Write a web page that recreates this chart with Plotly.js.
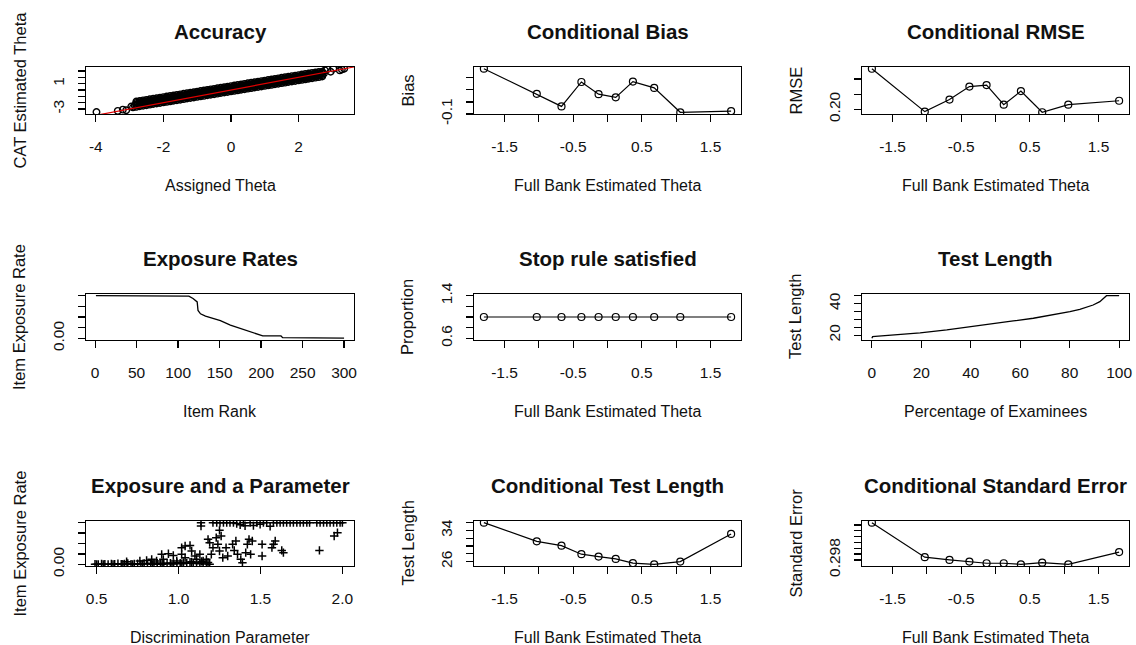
<!DOCTYPE html>
<html><head><meta charset="utf-8">
<script src="https://cdn.plot.ly/plotly-3.0.1.min.js"></script>
<style>html,body{margin:0;padding:0;background:#fff}#chart{width:1136px;height:645px}</style>
</head><body><div id="chart"></div>
<script>
// ---------------- DATA ----------------
// Panel 1: Accuracy (assigned theta vs CAT estimated theta) - read from the dense band
const accTheta = [-2.8,-2.7,-2.6,-2.5,-2.4,-2.3,-2.2,-2.1,-2.0,-1.9,-1.8,-1.7,-1.6,-1.5,-1.4,-1.3,-1.2,-1.1,-1.0,-0.9,-0.8,-0.7,-0.6,-0.5,-0.4,-0.3,-0.2,-0.1,0.0,0.1,0.2,0.3,0.4,0.5,0.6,0.7,0.8,0.9,1.0,1.1,1.2,1.3,1.4,1.5,1.6,1.7,1.8,1.9,2.0,2.1,2.2,2.3,2.4,2.5,2.6,2.7];
const accEstMid = [-2.24,-2.15,-2.06,-1.98,-1.89,-1.80,-1.71,-1.63,-1.54,-1.45,-1.37,-1.28,-1.19,-1.11,-1.02,-0.93,-0.84,-0.76,-0.67,-0.58,-0.50,-0.41,-0.32,-0.24,-0.15,-0.06,0.03,0.11,0.20,0.29,0.37,0.46,0.55,0.64,0.72,0.81,0.90,0.98,1.07,1.16,1.24,1.33,1.42,1.51,1.59,1.68,1.77,1.85,1.94,2.03,2.11,2.20,2.29,2.38,2.46,2.55];
const accEstUpper = [-2.03,-1.94,-1.85,-1.77,-1.68,-1.59,-1.50,-1.42,-1.33,-1.24,-1.16,-1.07,-0.98,-0.90,-0.81,-0.72,-0.63,-0.55,-0.46,-0.37,-0.29,-0.20,-0.11,-0.03,0.06,0.15,0.24,0.32,0.41,0.50,0.58,0.67,0.76,0.85,0.93,1.02,1.11,1.19,1.28,1.37,1.45,1.54,1.63,1.72,1.80,1.89,1.98,2.06,2.15,2.24,2.32,2.41,2.50,2.59,2.67,2.76];
const accEstLower = [-2.45,-2.36,-2.27,-2.19,-2.10,-2.01,-1.92,-1.84,-1.75,-1.66,-1.58,-1.49,-1.40,-1.32,-1.23,-1.14,-1.05,-0.97,-0.88,-0.79,-0.71,-0.62,-0.53,-0.45,-0.36,-0.27,-0.18,-0.10,-0.01,0.08,0.16,0.25,0.34,0.43,0.51,0.60,0.69,0.77,0.86,0.95,1.03,1.12,1.21,1.30,1.38,1.47,1.56,1.64,1.73,1.82,1.90,1.99,2.08,2.17,2.25,2.34];
const accEstHigh = [-1.82,-1.73,-1.64,-1.56,-1.47,-1.38,-1.29,-1.21,-1.12,-1.03,-0.95,-0.86,-0.77,-0.69,-0.60,-0.51,-0.42,-0.34,-0.25,-0.16,-0.08,0.01,0.10,0.18,0.27,0.36,0.45,0.53,0.62,0.71,0.79,0.88,0.97,1.06,1.14,1.23,1.32,1.40,1.49,1.58,1.66,1.75,1.84,1.93,2.01,2.10,2.19,2.27,2.36,2.45,2.53,2.62,2.71,2.78,2.84,2.90];
const accEstLow = [-2.66,-2.57,-2.48,-2.40,-2.31,-2.22,-2.13,-2.05,-1.96,-1.87,-1.79,-1.70,-1.61,-1.53,-1.44,-1.35,-1.26,-1.18,-1.09,-1.00,-0.92,-0.83,-0.74,-0.66,-0.57,-0.48,-0.39,-0.31,-0.22,-0.13,-0.05,0.04,0.13,0.22,0.30,0.39,0.48,0.56,0.65,0.74,0.82,0.91,1.00,1.09,1.17,1.26,1.35,1.43,1.52,1.61,1.69,1.78,1.87,1.96,2.04,2.13];
const accTailTheta = [-3.98,-3.35,-3.2,-3.1,-2.95,-2.9,-2.85,2.75,2.78,2.85,2.95,3.03,3.22,3.28,3.35];
const accTailEst   = [-3.47,-3.3,-3.1,-3.2,-2.6,-2.75,-2.45,2.6,3.1,3.3,2.9,3.35,3.1,3.25,3.37];

// Conditional panels: group means of full-bank estimated theta
const groupTheta = [-1.80,-1.03,-0.67,-0.38,-0.13,0.12,0.37,0.68,1.06,1.80];
const condBias = [0.275,0.067,-0.037,0.165,0.064,0.038,0.168,0.116,-0.086,-0.077];
const condRMSE = [0.334,0.192,0.232,0.275,0.280,0.215,0.260,0.190,0.215,0.228];
const stopProportion = [1,1,1,1,1,1,1,1,1,1];
const condTestLength = [36.0,31.2,30.1,27.9,27.3,26.7,25.6,25.3,26.0,33.1];
const condSE = [0.30440,0.29847,0.29800,0.29771,0.29742,0.29742,0.29724,0.29753,0.29724,0.29934];

// Exposure rates by item rank
const itemRank = [1,111,113,118,121,123,124,127,133,143,151,163,176,188,196,202,224,226,300];
const itemExposure = [0.2,0.2,0.198,0.187,0.179,0.171,0.131,0.115,0.104,0.094,0.083,0.062,0.046,0.030,0.019,0.011,0.011,0.003,0.001];

// Test length by percentage of examinees
const examineePct = [0,0.3,1.35,8.7,19.5,30.3,41.0,49.1,57.2,65.3,73.4,80.1,84.1,89.5,92.2,94.9,100];
const testLengthSorted = [18,19,19.2,20.1,21.5,23.3,25.4,27.1,29.0,30.7,32.8,34.9,36.4,39.1,41.2,45,45];

// Exposure vs discrimination parameter
const discParam = [
0.49,0.51,0.53,0.55,0.57,0.59,0.61,0.63,0.65,0.67,0.69,0.71,0.73,0.75,0.77,0.79,0.81,0.83,0.85,0.87,0.89,0.91,0.93,0.95,0.97,0.99,1.01,1.03,1.05,1.07,1.09,1.11,1.13,1.15,1.17,1.19,
0.50,0.54,0.60,0.66,0.72,0.78,0.84,0.90,0.96,1.02,1.08,1.14,1.18,
0.683,0.764,0.805,0.836,0.866,0.897,0.938,0.968,0.907,0.989,1.019,1.040,1.070,1.019,1.040,1.08,1.10,1.11,1.13,1.15,1.17,1.18,1.19,1.20,1.21,1.23,1.24,1.25,1.25,1.26,1.27,1.29,1.30,1.33,1.34,1.35,1.36,1.38,1.39,1.41,1.42,1.43,1.44,1.45,1.51,1.51,1.57,1.58,1.59,1.63,1.64,1.86,1.95,1.97,
1.137,1.137,1.21,1.233,1.253,1.274,1.294,1.314,1.335,1.355,1.376,1.396,1.406,1.437,1.457,1.478,1.498,1.518,1.538,1.559,1.579,1.60,1.62,1.64,1.66,1.681,1.701,1.722,1.742,1.762,1.783,1.80,1.844,1.864,1.885,1.905,1.925,1.946,1.966,1.986,2.0];
const discExposure = [
0.001,0.000,0.002,0.001,0.000,0.002,0.001,0.003,0.001,0.002,0.004,0.001,0.002,0.003,0.001,0.004,0.003,0.005,0.002,0.006,0.004,0.003,0.007,0.005,0.004,0.008,0.006,0.009,0.005,0.010,0.004,0.008,0.003,0.006,0.002,0.001,
0.000,0.000,0.000,0.001,0.000,0.002,0.000,0.001,0.002,0.003,0.012,0.014,0.009,
0.013,0.016,0.019,0.024,0.016,0.048,0.051,0.043,0.024,0.016,0.080,0.088,0.091,0.048,0.032,0.064,0.040,0.024,0.048,0.016,0.024,0.120,0.104,0.048,0.080,0.128,0.096,0.163,0.064,0.136,0.032,0.080,0.040,0.096,0.067,0.112,0.048,0.024,0.008,0.056,0.096,0.120,0.048,0.112,0.096,0.040,0.080,0.096,0.112,0.067,0.056,0.067,0.136,0.152,
0.200,0.184,0.200,0.200,0.200,0.200,0.200,0.200,0.200,0.196,0.190,0.200,0.185,0.200,0.186,0.200,0.192,0.200,0.200,0.183,0.200,0.200,0.200,0.200,0.200,0.200,0.200,0.200,0.200,0.200,0.200,0.200,0.200,0.200,0.200,0.200,0.200,0.200,0.200,0.200,0.200];

// Tick values / labels
const thetaTickVals = [-1.5,-1,-0.5,0,0.5,1,1.5];
const thetaTickText = ['-1.5','','-0.5','','0.5','','1.5'];
const accXTicks = [-4,-2,0,2];
const accYTickVals = [-3,-2,-1,0,1,2,3];
const accYTickText = ['-3','','','','1','',''];
const biasTickVals = [-0.1,0,0.1,0.2];
const biasTickText = ['-0.1','','',''];
const rmseTickVals = [0.20,0.25,0.30];
const rmseTickText = ['0.20','',''];
const expTickVals = [0,0.05,0.10,0.15,0.20];
const expTickText = ['0.00','','','',''];
const rankTicks = [0,50,100,150,200,250,300];
const propTickVals = [0.6,0.8,1.0,1.2,1.4];
const propTickText = ['0.6','','','','1.4'];
const pctTicks = [0,20,40,60,80,100];
const tlTickVals = [20,25,30,35,40,45];
const tlTickText = ['20','','','','40',''];
const discTickVals = [0.5,1.0,1.5,2.0];
const discTickText = ['0.5','1.0','1.5','2.0'];
const ctlTickVals = [26,28,30,32,34,36];
const ctlTickText = ['26','','','','34',''];
const seTickVals = [0.298,0.299,0.300,0.301,0.302,0.303,0.304];
const seTickText = ['0.298','','','','','',''];

const titles = ['Accuracy','Conditional Bias','Conditional RMSE','Exposure Rates','Stop rule satisfied','Test Length','Exposure and a Parameter','Conditional Test Length','Conditional Standard Error'];
const xTitles = ['Assigned Theta','Full Bank Estimated Theta','Full Bank Estimated Theta','Item Rank','Full Bank Estimated Theta','Percentage of Examinees','Discrimination Parameter','Full Bank Estimated Theta','Full Bank Estimated Theta'];
const yTitles = ['CAT Estimated Theta','Bias','RMSE','Item Exposure Rate','Proportion','Test Length','Item Exposure Rate','Test Length','Standard Error'];

// ---------------- LAYOUT ----------------
const W = 1136, H = 645;
const colX = [[86,354],[474,741],[862,1129]];
const rowY = [[67,114],[294,340],[521,566]];
const FONT = '"Liberation Sans", Arial, sans-serif';
const tickFont = {family: FONT, size: 15.5, color: '#111'};

function xAxis(i, range, tv, tt){
  const c = i % 3;
  return {domain:[colX[c][0]/W, colX[c][1]/W], anchor: i===0?'y':'y'+(i+1), range: range,
    tickmode:'array', tickvals: tv, ticktext: tt, showline:true, mirror:true, linecolor:'#000', linewidth:1.2,
    ticks:'outside', ticklen:7, tickwidth:1.2, tickcolor:'#000', showgrid:false, zeroline:false,
    tickfont: tickFont, ticklabelstandoff: 11, fixedrange:true};
}
function yAxis(i, range, tv, tt){
  const r = Math.floor(i / 3);
  return {domain:[1-rowY[r][1]/H, 1-rowY[r][0]/H], anchor: i===0?'x':'x'+(i+1), range: range,
    tickmode:'array', tickvals: tv, ticktext: tt, tickangle:-90, showline:true, mirror:true, linecolor:'#000', linewidth:1.2,
    ticks:'outside', ticklen:7, tickwidth:1.2, tickcolor:'#000', showgrid:false, zeroline:false,
    tickfont: tickFont, ticklabelstandoff: 8, fixedrange:true};
}

const layout = {width:W, height:H, margin:{l:0,r:0,t:0,b:0}, paper_bgcolor:'#fff', plot_bgcolor:'#fff', showlegend:false, annotations:[]};

const xr = [[-4.29,3.64],[-1.944,1.944],[-1.944,1.944],[-10.96,311.96],[-1.944,1.944],[-4,104],[0.435,2.071],[-1.944,1.944],[-1.944,1.944]];
const yr = [[-3.79,3.64],[-0.1,0.289],[0.1842,0.3398],[-0.008,0.208],[0.568,1.432],[16.92,46.08],[-0.008,0.208],[24.87,36.43],[0.29695,0.30469]];
const xt = [[accXTicks,accXTicks.map(String)],[thetaTickVals,thetaTickText],[thetaTickVals,thetaTickText],[rankTicks,rankTicks.map(String)],[thetaTickVals,thetaTickText],[pctTicks,pctTicks.map(String)],[discTickVals,discTickText],[thetaTickVals,thetaTickText],[thetaTickVals,thetaTickText]];
const yt = [[accYTickVals,accYTickText],[biasTickVals,biasTickText],[rmseTickVals,rmseTickText],[expTickVals,expTickText],[propTickVals,propTickText],[tlTickVals,tlTickText],[expTickVals,expTickText],[ctlTickVals,ctlTickText],[seTickVals,seTickText]];

for (let i = 0; i < 9; i++){
  const k = i===0 ? '' : String(i+1);
  layout['xaxis'+k] = xAxis(i, xr[i], xt[i][0], xt[i][1]);
  layout['yaxis'+k] = yAxis(i, yr[i], yt[i][0], yt[i][1]);
  const c = i % 3, r = Math.floor(i/3);
  const cx = (colX[c][0]+colX[c][1])/2, cy = (rowY[r][0]+rowY[r][1])/2;
  layout.annotations.push({text:'<b>'+titles[i]+'</b>', xref:'paper', yref:'paper', x:cx/W, y:1-(rowY[r][0]-36)/H, xanchor:'center', yanchor:'middle', showarrow:false, font:{family:FONT, size:20.5, color:'#111'}});
  layout.annotations.push({text:xTitles[i], xref:'paper', yref:'paper', x:cx/W, y:1-(rowY[r][1]+71)/H, xanchor:'center', yanchor:'middle', showarrow:false, font:{family:FONT, size:16, color:'#111'}});
  layout.annotations.push({text:yTitles[i], xref:'paper', yref:'paper', x:(colX[c][0]-67)/W, y:1-cy/H, xanchor:'center', yanchor:'middle', textangle:-90, showarrow:false, font:{family:FONT, size:16.5, color:'#111'}});
}

// ---------------- TRACES ----------------
const circ = {symbol:'circle-open', size:7, color:'#000', line:{width:1.2, color:'#000'}};
const ln = {color:'#000', width:1.2};
function lp(x, y, k){ return {type:'scatter', mode:'lines+markers', x:x, y:y, xaxis:'x'+k, yaxis:'y'+k, line:ln, marker:circ, hoverinfo:'skip'}; }

const accX = accTheta.concat(accTheta, accTheta, accTheta, accTheta, accTailTheta);
const accY = accEstHigh.concat(accEstUpper, accEstMid, accEstLower, accEstLow, accTailEst);

const data = [
  {type:'scatter', mode:'markers', x:accX, y:accY, xaxis:'x', yaxis:'y', marker:{symbol:'circle-open', size:6.5, color:'#000', line:{width:1.4, color:'#000'}}, hoverinfo:'skip'},
  {type:'scatter', mode:'lines', x:[-5,5], y:[-5,5], xaxis:'x', yaxis:'y', line:{color:'#e00000', width:1.2}, hoverinfo:'skip'},
  lp(groupTheta, condBias, 2),
  lp(groupTheta, condRMSE, 3),
  {type:'scatter', mode:'lines', x:itemRank, y:itemExposure, xaxis:'x4', yaxis:'y4', line:{color:'#000', width:1.3}, hoverinfo:'skip'},
  lp(groupTheta, stopProportion, 5),
  {type:'scatter', mode:'lines', x:examineePct, y:testLengthSorted, xaxis:'x6', yaxis:'y6', line:{color:'#000', width:1.3}, hoverinfo:'skip'},
  {type:'scatter', mode:'markers', x:discParam, y:discExposure, xaxis:'x7', yaxis:'y7', marker:{symbol:'cross-thin-open', size:6, color:'#000', line:{width:1.5, color:'#000'}}, hoverinfo:'skip'},
  lp(groupTheta, condTestLength, 8),
  lp(groupTheta, condSE, 9)
];

Plotly.newPlot('chart', data, layout, {staticPlot:true, displayModeBar:false});
</script>
</body></html>
